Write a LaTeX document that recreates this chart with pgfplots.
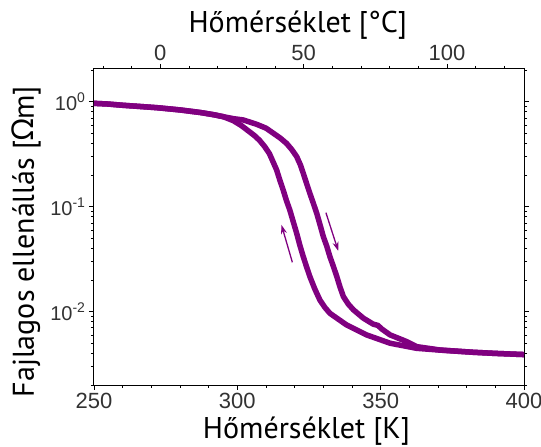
\documentclass[border=0pt]{standalone}
\usepackage{pgfplots}
\pgfplotsset{compat=1.18}
\usepackage{fontspec}
\setmainfont{Liberation Sans}
\newfontfamily\labelfont{PT Sans}
\newfontfamily\greekfont{Noto Sans}
\usetikzlibrary{arrows.meta}
\definecolor{vo}{RGB}{128,0,128}
\definecolor{ticktext}{RGB}{50,50,50}

\begin{document}
\begin{tikzpicture}
% fixed page frame around the 430pt x 316pt plot area
\path[use as bounding box] (-94pt,-62pt) rectangle (447pt,385pt);
\pgfplotsset{
  common/.style={
    width=430pt, height=316pt, scale only axis,
    tick align=outside,
    major tick length=5pt, minor tick length=3pt,
    every tick/.style={black, line width=0.8pt},
    axis line style={line width=1pt},
    /pgf/number format/assume math mode=true,
    tick label style={text=ticktext},
  }
}
% resistivity vs temperature in kelvin
\begin{axis}[common,
  xmin=250, xmax=400,
  ymode=log, ymin=0.002, ymax=2.05,
  xtick={250,300,350,400},
  minor xtick={260,270,280,290,310,320,330,340,360,370,380,390},
  xtick pos=bottom,
  ytick={0.01,0.1,1},
  yticklabels={10\textsuperscript{-2},10\textsuperscript{-1},10\textsuperscript{0}},
  minor ytick={0.002,0.003,0.004,0.005,0.006,0.007,0.008,0.009,
               0.02,0.03,0.04,0.05,0.06,0.07,0.08,0.09,
               0.2,0.3,0.4,0.5,0.6,0.7,0.8,0.9,2},
  xticklabel style={font=\fontsize{22}{22}\selectfont},
  yticklabel style={font=\fontsize{20}{20}\selectfont},
  xlabel={\labelfont Hőmérséklet [K]},
  xlabel style={font=\fontsize{30}{30}\selectfont, at={(axis description cs:0.494,-0.168)}, anchor=base},
  ylabel={\labelfont Fajlagos ellenállás [{\greekfont Ω}m]},
  ylabel style={font=\fontsize{30}{30}\selectfont, at={(axis description cs:-0.157,0.454)}, anchor=center, rotate=0},
]
% heating branch
\addplot[vo, line width=5.5pt, line join=round] coordinates {
(250,0.965) (255,0.95) (260,0.925) (265,0.905) (272,0.877) (280,0.835)
(287,0.79) (292,0.75) (295.1,0.72) (298.6,0.69) (302.1,0.67) (306.7,0.61)
(310,0.56) (312.6,0.50) (315,0.45) (317.2,0.40) (319,0.35) (320.7,0.30)
(322,0.25) (323,0.208) (324.2,0.165) (325.3,0.134) (326.5,0.108)
(327.7,0.0865) (328.8,0.068) (330,0.0518) (331.2,0.042) (332.3,0.0334)
(333.5,0.027) (334.7,0.0216) (335.8,0.0172) (337,0.0139) (338.7,0.0118)
(340.5,0.0104) (344,0.00865) (347.4,0.0076) (349,0.0074) (350.5,0.0068)
(353.3,0.006) (359.1,0.00518) (362.6,0.00464) (370.7,0.00431)
(382.3,0.0041) (390,0.004) (400,0.0039)
};
% cooling branch
\addplot[vo, line width=5.5pt, line join=round] coordinates {
(400,0.0039) (390,0.004) (382.3,0.0041) (370.7,0.0043) (362.6,0.00447)
(353.3,0.005) (345.1,0.006) (338.1,0.00747) (332.3,0.00964) (330.5,0.011)
(328.8,0.0129) (327,0.0165) (325.3,0.0216) (324.1,0.027) (323,0.0334)
(321.8,0.043) (320.7,0.0558) (319.5,0.072) (318.3,0.093) (317.1,0.115)
(316,0.144) (314.8,0.18) (313.7,0.224) (312.4,0.27) (311.2,0.32)
(309.5,0.375) (307.7,0.43) (306,0.475) (304.2,0.518) (301.5,0.59)
(298.6,0.66) (295.1,0.72) (292,0.75) (287,0.79) (280,0.835) (272,0.877)
(265,0.905) (260,0.925) (255,0.95) (250,0.965)
};
% direction arrows
\addplot[vo, line width=1.3pt, -{Stealth[length=9pt,width=6pt]}] coordinates {(330.9,0.0877) (335.2,0.0379)};
\addplot[vo, line width=1.3pt, -{Stealth[length=9pt,width=6pt]}] coordinates {(319.2,0.0295) (315.4,0.067)};
\end{axis}
% same range expressed in degrees Celsius
\begin{axis}[common,
  xmin=-23.15, xmax=126.85,
  ymin=0, ymax=1,
  axis x line*=top, axis y line=none,
  xtick={0,50,100},
  minor xtick={-20,-10,10,20,30,40,60,70,80,90,110,120},
  xticklabel style={font=\fontsize{22}{22}\selectfont},
  xlabel={\labelfont Hőmérséklet [°C]},
  xlabel style={font=\fontsize{30}{30}\selectfont, at={(axis description cs:0.474,1.114)}, anchor=base},
]
\end{axis}
\end{tikzpicture}
\end{document}
